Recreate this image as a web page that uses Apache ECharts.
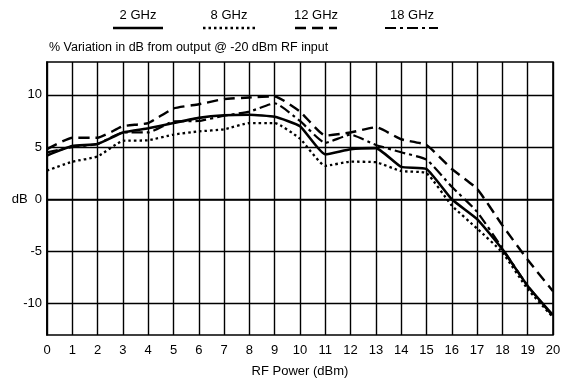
<!DOCTYPE html>
<html>
<head>
<meta charset="utf-8">
<script src="https://cdn.jsdelivr.net/npm/echarts@6/dist/echarts.min.js"></script>
<style>
  html, body { margin: 0; padding: 0; background: #fff; }
  #chart { width: 573px; height: 383px; }
</style>
</head>
<body>
<div id="chart"></div>
<script>
// RF input power, dBm
const rfPower = [0, 1, 2, 3, 4, 5, 6, 7, 8, 9, 10, 11, 12, 13, 14, 15, 16, 17, 18, 19, 20]

// variation in dB
const ghz2 = [4.2, 5.1, 5.3, 6.4, 6.8, 7.3, 7.8, 8.05, 8.1, 7.9, 7.0, 4.3, 4.8, 4.9, 3.1, 2.9, 0.0, -1.9, -4.8, -8.3, -11.1]
const ghz8 = [2.75, 3.6, 4.1, 5.6, 5.65, 6.2, 6.5, 6.7, 7.3, 7.3, 5.8, 3.2, 3.6, 3.55, 2.7, 2.5, -0.6, -2.8, -5.1, -8.6, -11.3]
const ghz12 = [4.8, 5.9, 5.9, 7.0, 7.3, 8.7, 9.1, 9.6, 9.75, 9.85, 8.4, 6.1, 6.4, 6.9, 5.75, 5.2, 2.9, 1.0, -2.5, -5.8, -8.8]
const ghz18 = [4.5, 5.0, 5.3, 6.4, 6.4, 7.45, 7.5, 8.0, 8.4, 9.2, 7.5, 5.4, 6.2, 5.2, 4.5, 3.8, 1.2, -1.2, -4.7, -8.3, -11.2]

const seriesNames = ['2 GHz', '8 GHz', '12 GHz', '18 GHz']
const gridValues = [-10, -5, 0, 5, 10]

const pair = (ys) => rfPower.map((x, i) => [x, ys[i]])

const font = 'Liberation Sans, Arial, Helvetica, sans-serif'

// dash patterns for the four curves
const styles = [
  { type: 'solid', width: 2.6 },
  { type: [2.5, 3], width: 2.3 },
  { type: [11, 6], width: 2.4 },
  { type: [11, 4, 3, 4], width: 2.2 }
]

// legend: caption above a line sample
const legendPos = [
  { cx: 138, x1: 113, x2: 163 },
  { cx: 229, x1: 203, x2: 255 },
  { cx: 316, x1: 295, x2: 337 },
  { cx: 412, x1: 385, x2: 438 }
]
const legendGraphics = []
seriesNames.forEach((name, i) => {
  const p = legendPos[i]
  legendGraphics.push({
    type: 'text',
    x: p.cx, y: 15,
    style: { text: name, fill: '#000', font: '13px ' + font, textAlign: 'center', textVerticalAlign: 'middle' }
  })
  legendGraphics.push({
    type: 'line',
    shape: { x1: p.x1, y1: 28, x2: p.x2, y2: 28 },
    style: { stroke: '#000', lineWidth: styles[i].width, lineDash: styles[i].type === 'solid' ? null : styles[i].type }
  })
})

const chart = echarts.init(document.getElementById('chart'))

chart.setOption({
  animation: false,
  backgroundColor: '#fff',
  title: {
    text: '% Variation in dB from output @ -20 dBm RF input',
    left: 44,
    top: 36,
    textStyle: { fontSize: 12.5, fontWeight: 'normal', color: '#000', fontFamily: font }
  },
  graphic: legendGraphics,
  grid: {
    left: 47, right: 20, top: 62, bottom: 45,
    show: true, borderColor: '#000', borderWidth: 1.6
  },
  xAxis: {
    type: 'value',
    min: 0, max: 20, interval: 1,
    name: 'RF Power (dBm)',
    nameLocation: 'middle',
    nameGap: 30,
    nameTextStyle: { fontSize: 13, color: '#000', fontFamily: font },
    axisLine: { lineStyle: { color: '#000', width: 1.6 } },
    axisTick: { show: false },
    axisLabel: { fontSize: 13, color: '#000', fontFamily: font, margin: 9 },
    splitLine: { show: true, lineStyle: { color: '#000', width: 1.4 } }
  },
  yAxis: {
    type: 'value',
    min: -13, max: 13.15, interval: 1,
    axisLine: { lineStyle: { color: '#000', width: 1.6 } },
    axisTick: { show: false },
    axisLabel: {
      fontSize: 13, color: '#000', fontFamily: font, margin: 5,
      formatter: (v) => (v % 5 === 0 ? (v === 0 ? 'dB  0' : String(v)) : '')
    },
    splitLine: { show: false }
  },
  series: seriesNames.map((name, i) => ({
    name,
    type: 'line',
    data: pair([ghz2, ghz8, ghz12, ghz18][i]),
    symbol: 'none',
    smooth: 0.15,
    lineStyle: { color: '#000', width: styles[i].width, type: styles[i].type },
    z: 3 + i,
    markLine: i === 0 ? {
      silent: true,
      symbol: 'none',
      label: { show: false },
      lineStyle: { color: '#000', width: 1.4, type: 'solid' },
      data: gridValues.map((v) => ({ yAxis: v }))
    } : undefined
  }))
})
</script>
</body>
</html>
